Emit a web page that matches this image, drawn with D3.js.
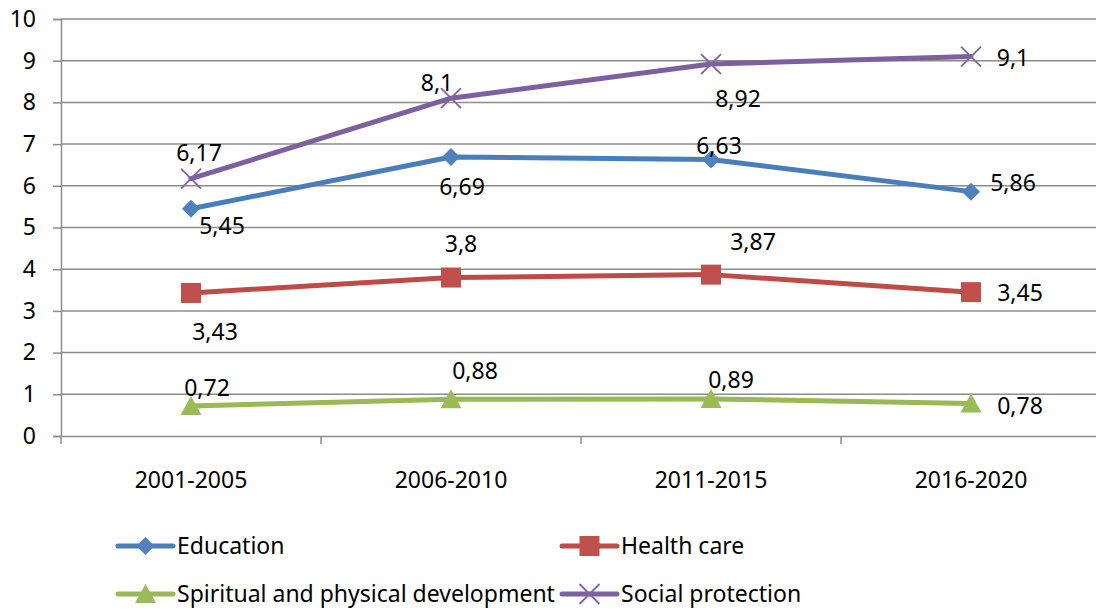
<!DOCTYPE html>
<html lang="en">
  <head>
    <meta charset="UTF-8">
    <title>Social spending</title>
    <style>
      body { margin: 0; background: #fff; }
      svg { display: block; font-family: "Noto Sans", sans-serif; }
    </style>
    <script src="https://d3js.org/d3.v7.min.js"></script>
  </head>
  <body>
    <script>
      var periods = ["2001-2005", "2006-2010", "2011-2015", "2016-2020"];
      var seriesNames = ["Education", "Health care", "Spiritual and physical development", "Social protection"];
      var education = [5.45, 6.69, 6.63, 5.86];
      var healthCare = [3.43, 3.8, 3.87, 3.45];
      var spiritual = [0.72, 0.88, 0.89, 0.78];
      var socialProtection = [6.17, 8.1, 8.92, 9.1];
      var yTicks = [0, 1, 2, 3, 4, 5, 6, 7, 8, 9, 10];

      // look of each series (colour, marker) and where its value labels sit
      var styles = [
        { line: "#4A7EBB", fill: "#4F81BD", symbol: "diamond" },
        { line: "#BE4B48", fill: "#C0504D", symbol: "square" },
        { line: "#98B954", fill: "#9BBB59", symbol: "triangle" },
        { line: "#7D60A0", fill: "#8064A2", symbol: "cross" }
      ];
      var labelOffsets = [
        [[31, 17], [11, 30], [8, -14], [42, -9]],
        [[24, 39], [10, -34], [42, -33], [49, 1]],
        [[16, -18], [24, -28], [20, -19], [49, 2]],
        [[8, -26], [-14, -15], [27, 35], [42, 1]]
      ];
      var allValues = [education, healthCare, spiritual, socialProtection];

      var width = 1096, height = 610;
      var mLeft = 61, mTop = 19, plotW = 1040, plotH = 417;
      var fontSize = "23px";

      var svg = d3.select("body").append("svg")
        .attr("width", width).attr("height", height);

      var x = d3.scaleBand().domain(periods).range([mLeft, mLeft + plotW]);
      var y = d3.scaleLinear().domain([0, 10]).range([mTop + plotH, mTop]);
      var cx = function (i) { return x(periods[i]) + x.bandwidth() / 2; };

      // grid lines
      svg.append("g").selectAll("line").data(yTicks.slice(1)).enter().append("line")
        .attr("x1", mLeft).attr("x2", mLeft + plotW)
        .attr("y1", function (d) { return y(d); }).attr("y2", function (d) { return y(d); })
        .attr("stroke", "#8c8c8c").attr("stroke-width", 1.5);

      var yAxis = d3.axisLeft(y).tickValues(yTicks).tickSize(8).tickPadding(17).tickFormat(d3.format("d"));
      var gy = svg.append("g").attr("transform", "translate(" + mLeft + ",0)").call(yAxis);
      gy.attr("font-family", null).attr("font-size", null);
      gy.select(".domain").attr("stroke", "#8c8c8c").attr("stroke-width", 1.5);
      gy.selectAll(".tick line").attr("stroke", "#8c8c8c").attr("stroke-width", 1.5);
      gy.selectAll(".tick text").attr("fill", "#000").style("font-size", fontSize);

      var xAxis = d3.axisBottom(x).tickSize(0).tickFormat("");
      var gx = svg.append("g").attr("transform", "translate(0," + y(0) + ")").call(xAxis);
      gx.select(".domain").attr("stroke", "#8c8c8c").attr("stroke-width", 1.5);
      var xTickPos = periods.map(function (p) { return x(p); }).concat([mLeft + plotW]);
      gx.selectAll(".sep").data(xTickPos).enter().append("line").attr("class", "sep")
        .attr("x1", function (d) { return d; }).attr("x2", function (d) { return d; })
        .attr("y1", 0).attr("y2", 8)
        .attr("stroke", "#8c8c8c").attr("stroke-width", 1.5);

      svg.append("g").selectAll("text").data(periods).enter().append("text")
        .attr("x", function (d, i) { return cx(i); })
        .attr("y", y(0) + 44).attr("dy", "0.35em")
        .attr("text-anchor", "middle").style("font-size", fontSize).attr("fill", "#000")
        .text(function (d) { return d; });

      function marker(sel, kind, st) {
        if (kind === "diamond") {
          sel.append("path").attr("d", "M0,-9L9,0L0,9L-9,0Z").attr("fill", st.fill);
        } else if (kind === "square") {
          sel.append("rect").attr("x", -10).attr("y", -10).attr("width", 20).attr("height", 20).attr("fill", st.fill);
        } else if (kind === "triangle") {
          sel.append("path").attr("d", "M0,-10L10.5,9L-10.5,9Z").attr("fill", st.fill);
        } else {
          sel.append("path").attr("d", "M-10,-10L10,10M-10,10L10,-10").attr("stroke", st.fill).attr("stroke-width", 1.8);
        }
      }

      var line = d3.line()
        .x(function (d, i) { return cx(i); })
        .y(function (d) { return y(d); });

      var fmt = function (v) { return String(v).replace(".", ","); };

      allValues.forEach(function (vals, s) {
        var st = styles[s];
        svg.append("path").datum(vals).attr("d", line)
          .attr("fill", "none").attr("stroke", st.line).attr("stroke-width", 5)
          .attr("stroke-linejoin", "round").attr("stroke-linecap", "round");
        vals.forEach(function (v, i) {
          var g = svg.append("g").attr("transform", "translate(" + cx(i) + "," + y(v) + ")");
          marker(g, st.symbol, st);
        });
      });

      allValues.forEach(function (vals, s) {
        svg.append("g").selectAll("text").data(vals).enter().append("text")
          .attr("x", function (d, i) { return cx(i) + labelOffsets[s][i][0]; })
          .attr("y", function (d, i) { return y(d) + labelOffsets[s][i][1]; })
          .attr("dy", "0.35em").attr("text-anchor", "middle")
          .style("font-size", fontSize).attr("fill", "#000")
          .text(fmt);
      });

      // legend
      var legendPos = [[118, 546], [562, 546], [118, 594], [562, 594]];
      seriesNames.forEach(function (name, s) {
        var st = styles[s];
        var g = svg.append("g").attr("transform", "translate(" + legendPos[s][0] + "," + legendPos[s][1] + ")");
        g.append("line").attr("x1", 0).attr("x2", 55).attr("stroke", st.line)
          .attr("stroke-width", 5).attr("stroke-linecap", "round");
        var m = g.append("g").attr("transform", "translate(27.5,0)");
        marker(m, st.symbol, st);
        g.append("text").attr("x", 59).attr("dy", "0.35em")
          .style("font-size", fontSize).attr("fill", "#000").text(name);
      });
    </script>
  </body>
</html>
